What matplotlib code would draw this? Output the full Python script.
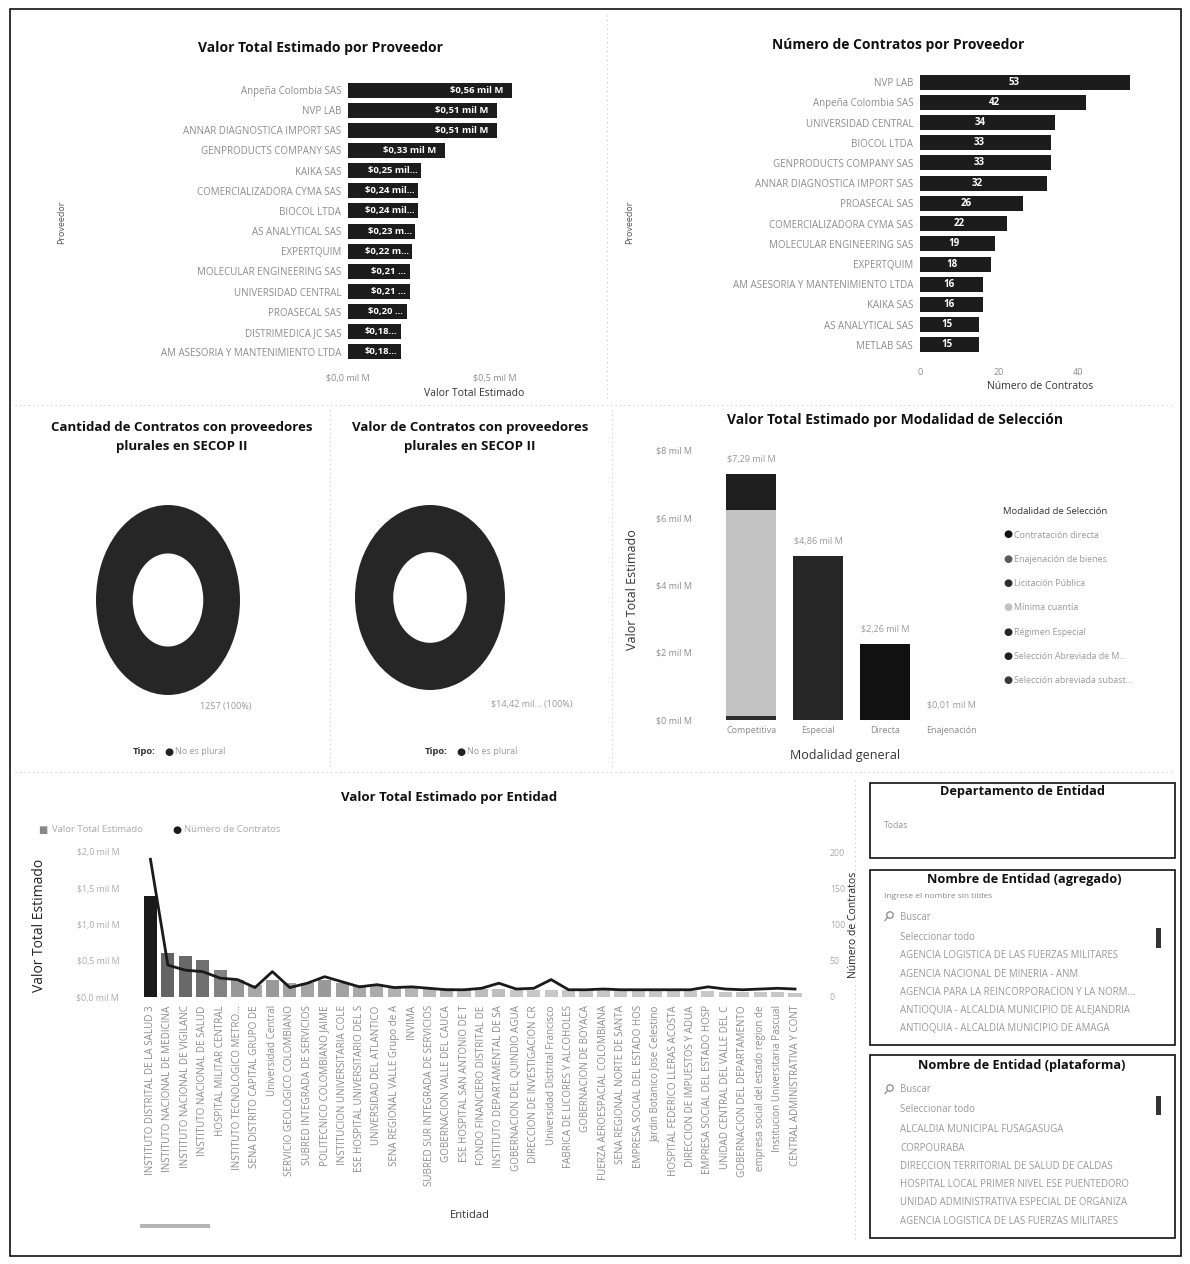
import matplotlib
matplotlib.use('Agg')
import matplotlib.pyplot as plt
import numpy as np
from matplotlib.patches import Rectangle, Circle
from matplotlib.lines import Line2D

plt.rcParams['font.family'] = ['Open Sans', 'DejaVu Sans']

# ---------------- DATA ----------------
prov_valor_names = ['Anpeña Colombia SAS', 'NVP LAB', 'ANNAR DIAGNOSTICA IMPORT SAS',
                    'GENPRODUCTS COMPANY SAS', 'KAIKA SAS', 'COMERCIALIZADORA CYMA SAS',
                    'BIOCOL LTDA', 'AS ANALYTICAL SAS', 'EXPERTQUIM',
                    'MOLECULAR ENGINEERING SAS', 'UNIVERSIDAD CENTRAL', 'PROASECAL SAS',
                    'DISTRIMEDICA JC SAS', 'AM ASESORIA Y MANTENIMIENTO LTDA']
prov_valor = [0.56, 0.51, 0.51, 0.33, 0.25, 0.24, 0.24, 0.23, 0.22, 0.21, 0.21, 0.20, 0.18, 0.18]

prov_num_names = ['NVP LAB', 'Anpeña Colombia SAS', 'UNIVERSIDAD CENTRAL', 'BIOCOL LTDA',
                  'GENPRODUCTS COMPANY SAS', 'ANNAR DIAGNOSTICA IMPORT SAS', 'PROASECAL SAS',
                  'COMERCIALIZADORA CYMA SAS', 'MOLECULAR ENGINEERING SAS', 'EXPERTQUIM',
                  'AM ASESORIA Y MANTENIMIENTO LTDA', 'KAIKA SAS', 'AS ANALYTICAL SAS', 'METLAB SAS']
prov_num = [53, 42, 34, 33, 33, 32, 26, 22, 19, 18, 16, 16, 15, 15]

tipo_labels = ['No es plural']
tipo_contratos = [1257]
tipo_valor = [14.42]

modal_general = ['Competitiva', 'Especial', 'Directa', 'Enajenación']
modal_legend = ['Contratación directa', 'Enajenación de bienes', 'Licitación Pública',
                'Mínima cuantía', 'Régimen Especial', 'Selección Abreviada de M...',
                'Selección abreviada subast...']
mod_contratacion_directa = [0, 0, 2.26, 0]
mod_enajenacion = [0, 0, 0, 0.01]
mod_licitacion = [0.12, 0, 0, 0]
mod_minima = [6.11, 0, 0, 0]
mod_regimen = [0, 4.86, 0, 0]
mod_sel_abreviada = [1.05, 0, 0, 0]
mod_sel_subasta = [0.01, 0, 0, 0]

entidad_names = ['INSTITUTO DISTRITAL DE LA SALUD 3', 'INSTITUTO NACIONAL DE MEDICINA',
                 'INSTITUTO NACIONAL DE VIGILANC', 'INSTITUTO NACIONAL DE SALUD',
                 'HOSPITAL MILITAR CENTRAL', 'INSTITUTO TECNOLOGICO METRO...',
                 'SENA DISTRITO CAPITAL GRUPO DE', 'Universidad Central',
                 'SERVICIO GEOLOGICO COLOMBIANO', 'SUBRED INTEGRADA DE SERVICIOS',
                 'POLITECNICO COLOMBIANO JAIME', 'INSTITUCION UNIVERSITARIA COLE',
                 'ESE HOSPITAL UNIVERSITARIO DEL S', 'UNIVERSIDAD DEL ATLANTICO',
                 'SENA REGIONAL VALLE Grupo de A', 'INVIMA',
                 'SUBRED SUR INTEGRADA DE SERVICIOS', 'GOBERNACION VALLE DEL CAUCA',
                 'ESE HOSPITAL SAN ANTONIO DE T', 'FONDO FINANCIERO DISTRITAL DE',
                 'INSTITUTO DEPARTAMENTAL DE SA', 'GOBERNACION DEL QUINDIO AGUA',
                 'DIRECCION DE INVESTIGACION CR', 'Universidad Distrital Francisco',
                 'FABRICA DE LICORES Y ALCOHOLES', 'GOBERNACION DE BOYACA',
                 'FUERZA AEROESPACIAL COLOMBIANA', 'SENA REGIONAL NORTE DE SANTA',
                 'EMPRESA SOCIAL DEL ESTADO HOS', 'Jardin Botanico Jose Celestino',
                 'HOSPITAL FEDERICO LLERAS ACOSTA', 'DIRECCION DE IMPUESTOS Y ADUA',
                 'EMPRESA SOCIAL DEL ESTADO HOSP', 'UNIDAD CENTRAL DEL VALLE DEL C',
                 'GOBERNACION DEL DEPARTAMENTO', 'empresa social del estado region de',
                 'Institucion Universitaria Pascual', 'CENTRAL ADMINISTRATIVA Y CONT']
entidad_valor = [1.39, 0.61, 0.56, 0.51, 0.37, 0.24, 0.17, 0.24, 0.20, 0.19, 0.24, 0.20,
                 0.17, 0.16, 0.14, 0.13, 0.12, 0.12, 0.11, 0.11, 0.11, 0.10, 0.10, 0.10,
                 0.09, 0.09, 0.09, 0.09, 0.08, 0.08, 0.08, 0.08, 0.08, 0.07, 0.07, 0.07,
                 0.07, 0.06]
entidad_contratos = [190, 44, 37, 35, 26, 24, 13, 35, 13, 19, 28, 21, 14, 17, 13, 14, 12,
                     10, 10, 12, 19, 11, 12, 24, 10, 10, 11, 10, 10, 10, 10, 10, 14, 11,
                     10, 11, 12, 11]

slicer_agregado = ['AGENCIA LOGISTICA DE LAS FUERZAS MILITARES', 'AGENCIA NACIONAL DE MINERIA - ANM',
                   'AGENCIA PARA LA REINCORPORACION Y LA NORM...',
                   'ANTIOQUIA - ALCALDIA MUNICIPIO DE ALEJANDRIA',
                   'ANTIOQUIA - ALCALDIA MUNICIPIO DE AMAGA']
slicer_plataforma = ['ALCALDIA MUNICIPAL FUSAGASUGA', 'CORPOURABA',
                     'DIRECCION TERRITORIAL DE SALUD DE CALDAS',
                     'HOSPITAL LOCAL PRIMER NIVEL ESE PUENTEDORO',
                     'UNIDAD ADMINISTRATIVA ESPECIAL DE ORGANIZA',
                     'AGENCIA LOGISTICA DE LAS FUERZAS MILITARES']

# ---------------- LAYOUT HELPERS ----------------
W, H = 1190, 1264
fig = plt.figure(figsize=(W / 100, H / 100), dpi=100)
fig.patch.set_facecolor('white')


def rect(x0, y0, x1, y1):
    return [x0 / W, 1 - y1 / H, (x1 - x0) / W, (y1 - y0) / H]


bg = fig.add_axes([0, 0, 1, 1])
bg.set_xlim(0, W)
bg.set_ylim(H, 0)
bg.axis('off')

TITLE = '#111111'
TICK = '#8c8c8c'
AXT = '#333333'


def txt(x, y, s, **kw):
    bg.text(x, y, s, **kw)


def clean(ax):
    for sp in ax.spines.values():
        sp.set_visible(False)
    ax.patch.set_alpha(0)
    ax.tick_params(length=0)


def mil(v, dec=2):
    return ('$%.*f mil M' % (dec, v)).replace('.', ',')


# outer border + dotted separators
bg.add_patch(Rectangle((10, 9), 1171, 1247, fill=False, ec='#111', lw=1.2))
for (xa, ya, xb, yb) in [(607, 15, 607, 400), (15, 405, 1175, 405), (330, 410, 330, 768),
                         (612, 410, 612, 768), (15, 772, 1175, 772), (855, 780, 855, 1240)]:
    bg.add_line(Line2D([xa, xb], [ya, yb], color='#c8c8c8', lw=0.8, ls=(0, (1, 3))))

# ---------------- TOP LEFT ----------------
txt(320, 48, 'Valor Total Estimado por Proveedor', ha='center', va='center',
    fontsize=10, fontweight='bold', color=TITLE)
ax1 = fig.add_axes(rect(348, 80, 600, 362))
clean(ax1)
y1 = np.arange(len(prov_valor))
ax1.barh(y1, prov_valor, height=0.74, color='#1c1c1c')
ax1.set_ylim(len(prov_valor) - 0.5, -0.5)
ax1.set_xlim(0, 0.86)
ax1.set_yticks(y1, prov_valor_names, fontsize=7.0, color=TICK)
ax1.set_xticks([0, 0.5], [mil(0, 1), mil(0.5, 1)], fontsize=6.5, color=TICK)
ax1.tick_params(axis='y', pad=5)
ax1.tick_params(axis='x', pad=9)
ax1.set_xlabel('Valor Total Estimado', fontsize=7.5, color=AXT, labelpad=3)
for yi, v in zip(y1, prov_valor):
    full = mil(v)
    keep = 11 if v >= 0.3 else 9 if v >= 0.24 else 7 if v >= 0.22 else 6 if v >= 0.2 else 5
    lab = full if keep >= len(full) else full[:keep] + '...'
    ax1.text(v - 0.03 if keep >= len(full) else v - 0.012, yi, lab, ha='right', va='center',
             fontsize=6.8, fontweight='bold', color='white')
txt(62, 222, 'Proveedor', rotation=90, ha='center', va='center', fontsize=6.5, color='#555')

# ---------------- TOP RIGHT ----------------
txt(898, 45, 'Número de Contratos por Proveedor', ha='center', va='center',
    fontsize=10, fontweight='bold', color=TITLE)
ax2 = fig.add_axes(rect(920, 72, 1160, 355))
clean(ax2)
y2 = np.arange(len(prov_num))
ax2.barh(y2, prov_num, height=0.74, color='#1c1c1c')
ax2.set_ylim(len(prov_num) - 0.5, -0.5)
ax2.set_xlim(0, 60.6)
ax2.set_yticks(y2, prov_num_names, fontsize=7.0, color=TICK)
ax2.set_xticks([0, 20, 40])
ax2.tick_params(axis='x', labelsize=6.5, labelcolor=TICK, pad=9)
ax2.tick_params(axis='y', pad=5)
ax2.set_xlabel('Número de Contratos', fontsize=7.5, color=AXT, labelpad=3)
for yi, v in zip(y2, prov_num):
    ax2.text(v * 0.45, yi, str(v), ha='center', va='center', fontsize=7,
             fontweight='bold', color='white')
txt(630, 222, 'Proveedor', rotation=90, ha='center', va='center', fontsize=6.5, color='#555')

# ---------------- DONUTS ----------------
def donut(box, values, label, lab_xy, title, title_xy, legend_x):
    ax = fig.add_axes(rect(*box))
    ax.pie(values, colors=['#262626'], radius=1, startangle=90, counterclock=False,
           wedgeprops=dict(width=0.51, edgecolor='none'))
    ax.set_aspect('auto')
    ax.set_xlim(-1, 1)
    ax.set_ylim(-1, 1)
    txt(lab_xy[0], lab_xy[1], label, ha='center', va='center', fontsize=6.5, color='#999')
    txt(title_xy[0], title_xy[1], title, ha='center', va='center', fontsize=9.5,
        fontweight='bold', color=TITLE, linespacing=1.6)
    txt(legend_x, 752, 'Tipo:', ha='left', va='center', fontsize=6.8,
        fontweight='bold', color='#333')
    txt(legend_x + 31, 752, '●', ha='left', va='center', fontsize=7.5, color='#222')
    txt(legend_x + 42, 752, tipo_labels[0], ha='left', va='center', fontsize=6.5, color='#999')


donut((96, 505, 240, 695), tipo_contratos,
      '%d (100%%)' % sum(tipo_contratos), (226, 706),
      'Cantidad de Contratos con proveedores\nplurales en SECOP II', (182, 437), 133)
donut((355, 505, 505, 690), tipo_valor,
      ('$%.2f' % sum(tipo_valor)).replace('.', ',') + ' mil... (100%)', (532, 704),
      'Valor de Contratos con proveedores\nplurales en SECOP II', (470, 437), 425)

# ---------------- MODALIDAD ----------------
txt(895, 420, 'Valor Total Estimado por Modalidad de Selección', ha='center', va='center',
    fontsize=10, fontweight='bold', color=TITLE)
ax3 = fig.add_axes(rect(718, 450, 985, 720))
clean(ax3)
xm = np.arange(len(modal_general))
series = [mod_contratacion_directa, mod_enajenacion, mod_licitacion, mod_minima,
          mod_regimen, mod_sel_abreviada, mod_sel_subasta]
mcolors = ['#111111', '#5a5a5a', '#2e2e2e', '#c2c2c2', '#262626', '#1e1e1e', '#3a3a3a']
bottom = np.zeros(len(modal_general))
for s, c in zip(series, mcolors):
    ax3.bar(xm, s, bottom=bottom, width=0.75, color=c)
    bottom += np.array(s)
ax3.set_xlim(-0.5, 3.5)
ax3.set_ylim(0, 8)
ax3.set_yticks([0, 2, 4, 6, 8], ['$%d mil M' % t for t in [0, 2, 4, 6, 8]])
ax3.tick_params(axis='y', labelsize=6.5, labelcolor=TICK)
for lab in ax3.get_yticklabels():
    lab.set_ha('left')
ax3.tick_params(axis='y', pad=45)
ax3.set_xticks(xm, modal_general, fontsize=6.5, color=TICK)
ax3.tick_params(axis='x', pad=4)
for xi, tot in zip(xm, bottom):
    ax3.text(xi, tot + 0.3, mil(tot), ha='center', va='bottom', fontsize=6.5, color='#999')
txt(845, 755, 'Modalidad general', ha='center', va='center', fontsize=9, color=AXT)
txt(632, 590, 'Valor Total Estimado', rotation=90, ha='center', va='center', fontsize=9,
    color=AXT)
txt(1003, 512, 'Modalidad de Selección', ha='left', va='center', fontsize=6.8, color='#333')
for i, (name, c) in enumerate(zip(modal_legend, mcolors)):
    yy = 535 + i * 24.3
    txt(1003, yy, '●', ha='left', va='center', fontsize=7.5, color=c)
    txt(1014, yy, name, ha='left', va='center', fontsize=6.4, color='#999')

# ---------------- ENTIDAD ----------------
txt(449, 797, 'Valor Total Estimado por Entidad', ha='center', va='center',
    fontsize=9.5, fontweight='bold', color=TITLE)
ax4 = fig.add_axes(rect(140, 852, 802, 997))
clean(ax4)
xe = np.arange(len(entidad_valor))
ev = np.array(entidad_valor)
lev = 0.78 - 0.68 * np.clip((ev - 0.1) / 1.29, 0, 1) ** 0.6
ecolors = [(l, l, l) for l in lev]
ax4.bar(xe, entidad_valor, width=0.75, color=ecolors)
ax4.set_xlim(-0.6, len(entidad_valor) - 0.6)
ax4.set_ylim(0, 2.0)
ax4.set_yticks([0, 0.5, 1.0, 1.5, 2.0], [mil(t, 1) for t in [0, 0.5, 1.0, 1.5, 2.0]])
ax4.tick_params(axis='y', labelsize=6.3, labelcolor='#aaa', pad=15)
ax4.set_xticks(xe, entidad_names, rotation=90, fontsize=7.1, color=TICK)
ax4.tick_params(axis='x', pad=6)
ax4b = ax4.twinx()
clean(ax4b)
ax4b.plot(xe, entidad_contratos, color='#1a1a1a', lw=2)
ax4b.set_ylim(0, 200)
ax4b.set_yticks([0, 50, 100, 150, 200])
ax4b.tick_params(axis='y', labelsize=6.3, labelcolor='#aaa', pad=20)
txt(470, 1215, 'Entidad', ha='center', va='center', fontsize=8, color=AXT)
txt(40, 925, 'Valor Total Estimado', rotation=90, ha='center', va='center', fontsize=10,
    color='#222')
txt(853, 925, 'Número de Contratos', rotation=90, ha='center', va='center', fontsize=7.5,
    color='#222')
txt(38, 830, '■', ha='left', va='center', fontsize=7, color='#888')
txt(52, 830, 'Valor Total Estimado', ha='left', va='center', fontsize=6.8, color='#aaa')
txt(172, 830, '●', ha='left', va='center', fontsize=7.5, color='#1a1a1a')
txt(184, 830, 'Número de Contratos', ha='left', va='center', fontsize=6.8, color='#aaa')
bg.add_patch(Rectangle((140, 1224), 70, 4, color='#b5b5b5', lw=0))

# ---------------- SLICERS ----------------
SL = 6.9
bg.add_patch(Rectangle((870, 783), 305, 75, fill=False, ec='#111', lw=1.2))
txt(1022, 792, 'Departamento de Entidad', ha='center', va='center', fontsize=9.2,
    fontweight='bold', color=TITLE)
txt(884, 826, 'Todas', ha='left', va='center', fontsize=6.3, color='#999')

bg.add_patch(Rectangle((870, 870), 305, 175, fill=False, ec='#111', lw=1.2))
txt(1024, 880, 'Nombre de Entidad (agregado)', ha='center', va='center', fontsize=9.2,
    fontweight='bold', color=TITLE)
txt(884, 896, 'Ingrese el nombre sin tildes', ha='left', va='center', fontsize=6, color='#888')
bg.add_patch(Circle((890, 915), 3.2, fill=False, ec='#888', lw=0.9))
bg.add_line(Line2D([887.5, 885], [917.5, 920.5], color='#888', lw=0.9))
txt(900, 917, 'Buscar', ha='left', va='center', fontsize=SL, color='#999')
txt(900, 938, 'Seleccionar todo', ha='left', va='center', fontsize=SL, color='#999')
for i, s in enumerate(slicer_agregado):
    txt(900, 956 + i * 18.2, s, ha='left', va='center', fontsize=SL, color='#999')
bg.add_patch(Rectangle((1156, 928), 5, 20, color='#333', lw=0))

bg.add_patch(Rectangle((870, 1055), 305, 183, fill=False, ec='#111', lw=1.2))
txt(1022, 1066, 'Nombre de Entidad (plataforma)', ha='center', va='center', fontsize=9.2,
    fontweight='bold', color=TITLE)
bg.add_patch(Circle((890, 1088), 3.2, fill=False, ec='#888', lw=0.9))
bg.add_line(Line2D([887.5, 885], [1090.5, 1093.5], color='#888', lw=0.9))
txt(900, 1090, 'Buscar', ha='left', va='center', fontsize=SL, color='#999')
txt(900, 1110, 'Seleccionar todo', ha='left', va='center', fontsize=SL, color='#999')
for i, s in enumerate(slicer_plataforma):
    txt(900, 1130 + i * 18.2, s, ha='left', va='center', fontsize=SL, color='#999')
bg.add_patch(Rectangle((1156, 1096), 5, 19, color='#333', lw=0))

fig.savefig('out.png', dpi=100, facecolor='white')
